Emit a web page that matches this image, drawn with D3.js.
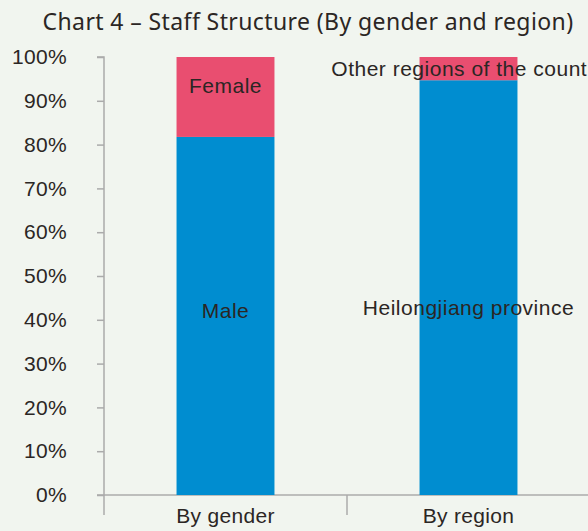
<!DOCTYPE html>
<html>
<head>
<meta charset="utf-8">
<script src="https://cdn.jsdelivr.net/npm/d3@7"></script>
<style>
  body { margin: 0; background: #f1f5ef; }
  svg { display: block; }
</style>
</head>
<body>
<svg id="chart" width="588" height="531"></svg>
<script>
// data
const categories = ["By gender", "By region"];
const bottomLabels = ["Male", "Heilongjiang province"];
const topLabels = ["Female", "Other regions of the country"];
const bottomValues = [0.8175, 0.947];
const topValues = [0.1825, 0.053];
const yTicks = [0, 0.1, 0.2, 0.3, 0.4, 0.5, 0.6, 0.7, 0.8, 0.9, 1];

const blue = "#008dd0";
const pink = "#e94e70";
const textColor = "#2b2624";
const bodyFont = "'Liberation Sans', Arial, sans-serif";

let svg = d3.select("svg#chart");
let margin = {top: 57, bottom: 36, left: 104, right: -2};
let width = +svg.attr("width");
let height = +svg.attr("height");

let yScale = d3.scaleLinear()
    .domain([0, 1])
    .range([height - margin.bottom, margin.top]);

let xScale = d3.scaleBand()
    .domain(categories)
    .range([margin.left, width - margin.right])
    .paddingInner(0.597)
    .paddingOuter(0.2985);

// title
svg.append("text")
    .attr("x", 308)
    .attr("y", 30)
    .attr("text-anchor", "middle")
    .style("font-family", "'Noto Sans', sans-serif")
    .style("font-size", "23px")
    .style("letter-spacing", "0.4px")
    .style("fill", textColor)
    .text("Chart 4 \u2013 Staff Structure (By gender and region)");

// y axis
let leftAxis = d3.axisLeft(yScale)
    .tickValues(yTicks)
    .tickSize(7)
    .tickPadding(30)
    .tickFormat(d3.format(".0%"));

let yAxisG = svg.append("g")
    .attr("transform", `translate(${margin.left}, 0)`)
    .call(leftAxis);
yAxisG.select(".domain").attr("d", `M-7,${yScale(1)}H0V${yScale(0)}H-7`);

// x axis
let band = xScale.step();
let xAxisG = svg.append("g")
    .attr("transform", `translate(0, ${yScale(0)})`);
xAxisG.append("line")
    .attr("x1", margin.left).attr("x2", width)
    .attr("y1", 0).attr("y2", 0);
categories.forEach((c, i) => {
    let x0 = xScale(c) - band * 0.2985;
    xAxisG.append("line")
        .attr("x1", x0).attr("x2", x0)
        .attr("y1", 0).attr("y2", 20);
    xAxisG.append("text")
        .attr("x", xScale(c) + xScale.bandwidth() / 2)
        .attr("y", 28)
        .attr("text-anchor", "middle")
        .text(c);
});

[yAxisG, xAxisG].forEach(g => {
    g.selectAll("line, path").attr("stroke", "#ababab").attr("stroke-width", 1.5);
    g.selectAll("text")
        .style("font-family", bodyFont)
        .style("font-size", "21px")
        .style("letter-spacing", "0.3px")
        .style("fill", textColor);
});

// bars
categories.forEach((c, i) => {
    let x = xScale(c);
    let w = xScale.bandwidth();
    svg.append("rect")
        .attr("x", x)
        .attr("y", yScale(bottomValues[i]))
        .attr("width", w)
        .attr("height", yScale(0) - yScale(bottomValues[i]))
        .style("fill", blue);
    svg.append("rect")
        .attr("x", x)
        .attr("y", yScale(bottomValues[i] + topValues[i]))
        .attr("width", w)
        .attr("height", yScale(bottomValues[i]) - yScale(bottomValues[i] + topValues[i]))
        .style("fill", pink);
});

// segment labels (the long one runs off the right edge, as in the original)
let labelFont = g => g
    .attr("text-anchor", "middle")
    .attr("dominant-baseline", "central")
    .style("font-family", bodyFont)
    .style("font-size", "21px")
    .style("letter-spacing", "0.5px")
    .style("fill", textColor);

categories.forEach((c, i) => {
    let cx = xScale(c) + xScale.bandwidth() / 2;
    svg.append("text")
        .attr("x", cx)
        .attr("y", yScale(bottomValues[i] / 2) + (i === 1 ? 20 : -5))
        .call(labelFont)
        .text(bottomLabels[i]);
    svg.append("text")
        .attr("x", cx)
        .attr("y", yScale(bottomValues[i] + topValues[i] / 2) - (i === 0 ? 11 : 0))
        .call(labelFont)
        .text(topLabels[i]);
});
</script>
</body>
</html>
